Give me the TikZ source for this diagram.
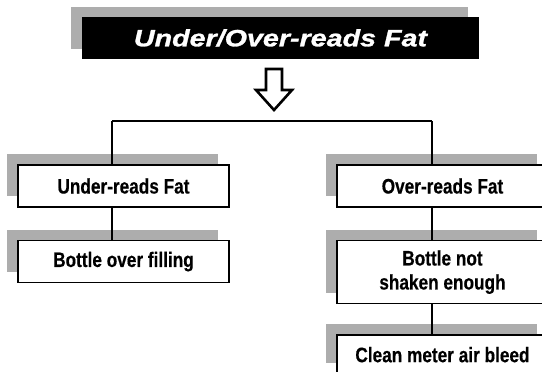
\documentclass[tikz,border=0pt]{standalone}
\usepackage{fontspec}
\newfontfamily\boxfont[FakeStretch=0.82, FakeBold=0.4]{Liberation Sans}
\newfontfamily\titlefont[FakeStretch=1.22, FakeBold=1.2]{Liberation Sans}
\usetikzlibrary{positioning,shadows}

\begin{document}
\begin{tikzpicture}[
  x=1pt, y=-1pt,
  cause/.style={draw, line width=1.6pt, fill=white, minimum width=211pt, minimum height=42pt,
    align=center, inner sep=0pt,
    font=\boxfont\bfseries\fontsize{21}{24}\selectfont,
    general shadow={shadow xshift=-11pt, shadow yshift=11pt, fill=black!32}},
  heading/.style={fill=black, text=white, minimum width=397pt, minimum height=42pt, inner sep=0pt,
    font=\titlefont\bfseries\itshape\fontsize{23.5}{26}\selectfont,
    general shadow={shadow xshift=-11pt, shadow yshift=10pt, fill=black!32}},
  wire/.style={line width=1.6pt}
]
\useasboundingbox (0,0) rectangle (542,372);

\node[heading] (title) at (280.5,38) {Under/Over-reads Fat};

% hollow arrow under the title
\draw[line width=2.6pt, fill=white, line join=miter]
  (266,69) -- (282,69) -- (282,90) -- (292,90) -- (274,110) -- (256,90) -- (266,90) -- cycle;

\node[cause] (under) at (123.5,186) {Under-reads Fat};
\node[cause, below=32pt of under] (overfill) {Bottle over filling};

\node[cause] (over) at (442.5,186) {Over-reads Fat};
\node[cause, minimum height=63pt, below=32pt of over] (shake) {Bottle not\\shaken enough};
\node[cause, minimum height=39pt, below=30pt of shake] (bleed) {Clean meter air bleed};

\coordinate (busL) at (112,121);
\coordinate (busR) at (432,121);
\draw[wire] (busL) -- (busR);
\draw[wire] (busL) -- (busL |- under.north);
\draw[wire] (busR) -- (busR |- over.north);
\draw[wire] (under.south -| busL) -- (overfill.north -| busL);
\draw[wire] (over.south -| busR) -- (shake.north -| busR);
\draw[wire] (shake.south -| busR) -- (bleed.north -| busR);
\end{tikzpicture}
\end{document}
